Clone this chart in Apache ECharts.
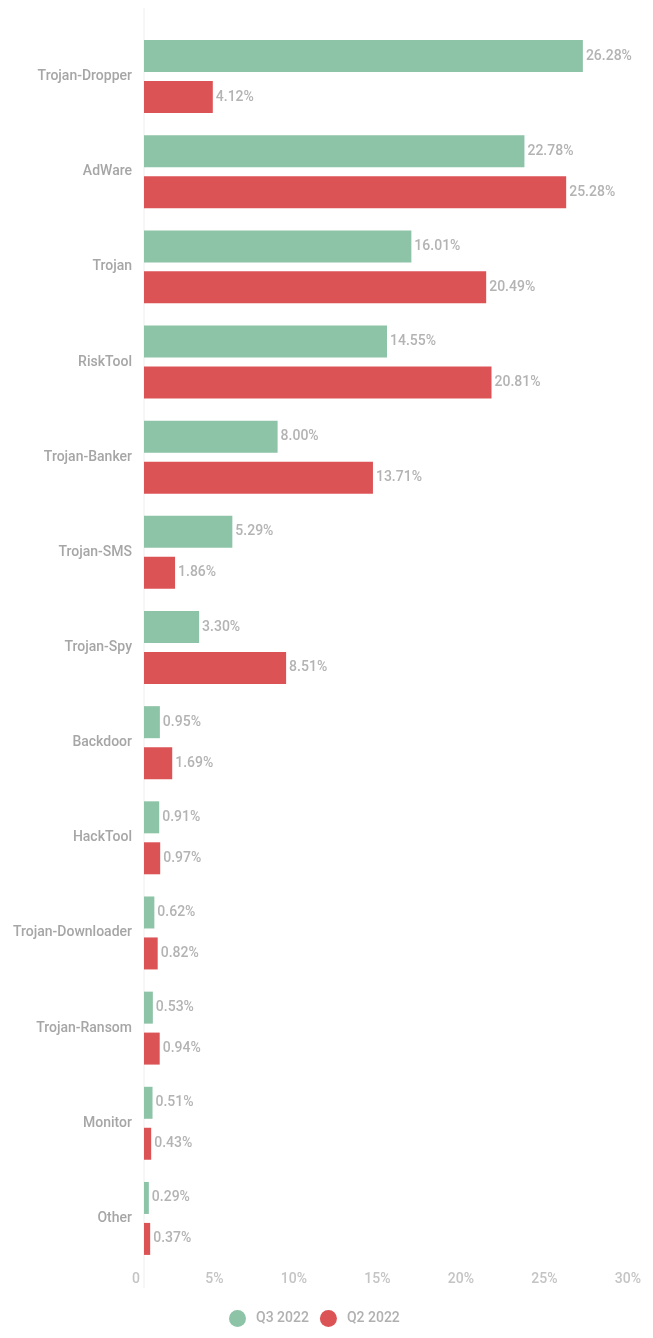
<!DOCTYPE html>
<html>
<head>
<meta charset="utf-8">
<script src="https://cdn.jsdelivr.net/npm/echarts@6/dist/echarts.min.js"></script>
<style>
  html, body { margin: 0; padding: 0; background: #fff; }
  #chart { width: 653px; height: 1338px; }
</style>
</head>
<body>
<div id="chart"></div>
<script>
// categories, top to bottom
const categories = [
  "Trojan-Dropper", "AdWare", "Trojan", "RiskTool", "Trojan-Banker",
  "Trojan-SMS", "Trojan-Spy", "Backdoor", "HackTool", "Trojan-Downloader",
  "Trojan-Ransom", "Monitor", "Other"
];
const q3Values = [26.28, 22.78, 16.01, 14.55, 8.00, 5.29, 3.30, 0.95, 0.91, 0.62, 0.53, 0.51, 0.29];
const q2Values = [4.12, 25.28, 20.49, 20.81, 13.71, 1.86, 8.51, 1.69, 0.97, 0.82, 0.94, 0.43, 0.37];
const seriesNames = ["Q3 2022", "Q2 2022"];
const xTicks = [0, 5, 10, 15, 20, 25, 30];

const green = "#8dc3a6";
const red = "#dc5356";
const font = "Roboto";

const chart = echarts.init(document.getElementById("chart"));

const valueLabel = {
  show: true,
  position: "right",
  distance: 3,
  color: "#b3b3b3",
  fontFamily: font,
  fontSize: 14,
  fontWeight: 500,
  formatter: p => p.value.toFixed(2) + "%"
};

chart.setOption({
  animation: false,
  grid: { left: 144, right: 8, top: 29, bottom: 72, containLabel: false },
  legend: {
    bottom: 6,
    left: 224,
    icon: "circle",
    itemWidth: 17,
    itemHeight: 17,
    itemGap: 11,
    textStyle: { color: "#b0b0b0", fontFamily: font, fontSize: 14, fontWeight: 500, padding: [0, 0, 0, 5] },
    data: seriesNames
  },
  xAxis: {
    type: "value",
    min: xTicks[0],
    max: xTicks[xTicks.length - 1],
    interval: 5,
    axisLine: { show: false },
    axisTick: { show: false },
    splitLine: { show: false },
    axisLabel: {
      margin: 6,
      align: "right",
      padding: [0, 4, 0, 0],
      color: "#c4c4c4",
      fontFamily: font,
      fontSize: 14,
      fontWeight: 500,
      formatter: v => (v === 0 ? "0" : v + "%")
    }
  },
  yAxis: {
    type: "category",
    inverse: true,
    data: categories,
    axisLine: { show: false },
    axisTick: { show: false },
    axisLabel: {
      margin: 12,
      color: "#a6a6a6",
      fontFamily: font,
      fontSize: 14,
      fontWeight: 500
    }
  },
  series: [
    {
      name: seriesNames[0],
      type: "bar",
      data: q3Values,
      barWidth: 32,
      barGap: "28%",
      itemStyle: { color: green },
      label: valueLabel
    },
    {
      name: seriesNames[1],
      type: "bar",
      data: q2Values,
      barWidth: 32,
      barGap: "28%",
      itemStyle: { color: red },
      label: valueLabel
    }
  ]
});

// thin baseline at zero, running past the grid like in the original
const x0 = chart.convertToPixel({ xAxisIndex: 0 }, 0);
chart.setOption({
  graphic: [{
    type: "line",
    z: -1,
    shape: { x1: x0, y1: 8, x2: x0, y2: 1288 },
    style: { stroke: "#eeeeee", lineWidth: 1 }
  }]
});
</script>
</body>
</html>
